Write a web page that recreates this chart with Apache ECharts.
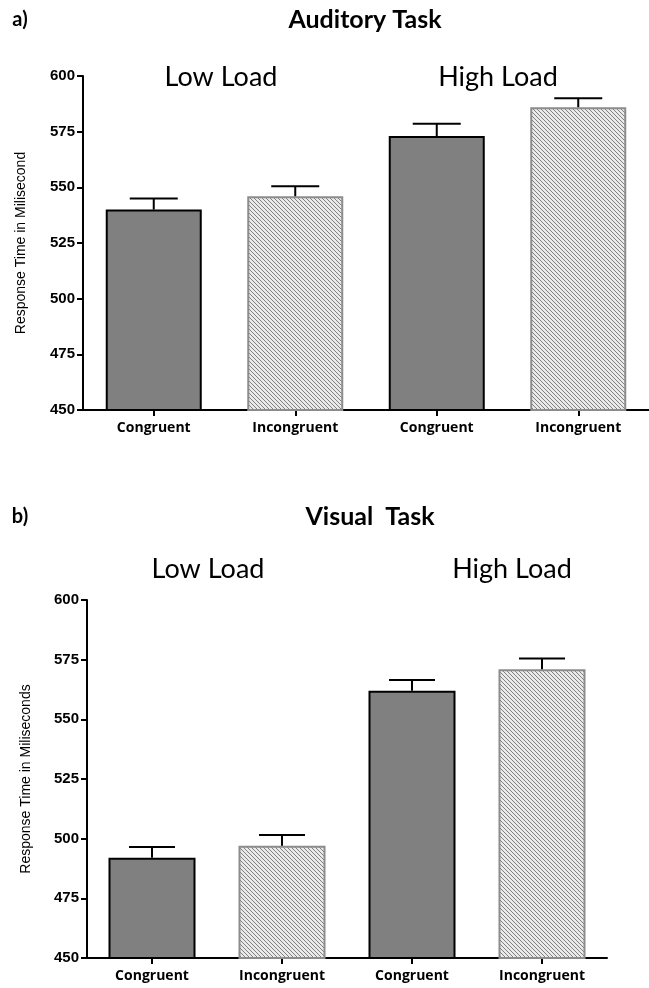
<!DOCTYPE html>
<html>
<head>
<meta charset="utf-8">
<script src="https://cdn.jsdelivr.net/npm/echarts@6/dist/echarts.min.js"></script>
<style>
  html, body { margin: 0; padding: 0; background: #fff; }
  #main { width: 649px; height: 988px; }
</style>
</head>
<body>
<div id="main"></div>
<script>
const categories = ['Congruent', 'Incongruent', 'Congruent', 'Incongruent'];
const auditoryMeans = [540, 546, 573, 586];
const auditoryErr = [5, 4.5, 5.5, 4];
const visualMeans = [492, 497, 562, 571];
const visualErr = [4.5, 4.5, 4.5, 4.5];
const yMin = 450, yMax = 600, yStep = 25;

// diagonal hatch for the incongruent bars
function makeHatch() {
  const c = document.createElement('canvas');
  c.width = 4; c.height = 4;
  const ctx = c.getContext('2d');
  ctx.fillStyle = '#eaeaea';
  ctx.fillRect(0, 0, 4, 4);
  ctx.strokeStyle = '#808080';
  ctx.lineWidth = 1;
  [[-1, -1, 5, 5], [-1, 3, 1, 5], [3, -1, 5, 1]].forEach(s => {
    ctx.beginPath(); ctx.moveTo(s[0], s[1]); ctx.lineTo(s[2], s[3]); ctx.stroke();
  });
  return c;
}
const hatch = makeHatch();

const solidStyle = { color: '#808080', borderColor: '#000', borderWidth: 2 };
const hatchStyle = { color: { image: hatch, repeat: 'repeat' }, borderColor: '#8c8c8c', borderWidth: 2 };

const barData = (means) => means.map((v, i) => ({ value: v, itemStyle: i % 2 ? hatchStyle : solidStyle }));
const errData = (means, errs) => means.map((v, i) => [i, v, v + errs[i]]);

const errRender = (capW) => function (params, api) {
  const base = api.coord([api.value(0), api.value(1)]);
  const top = api.coord([api.value(0), api.value(2)]);
  const st = { stroke: '#000', lineWidth: 2 };
  return {
    type: 'group',
    children: [
      { type: 'line', shape: { x1: base[0], y1: base[1], x2: top[0], y2: top[1] }, style: st },
      { type: 'line', shape: { x1: top[0] - capW / 2, y1: top[1], x2: top[0] + capW / 2, y2: top[1] }, style: st }
    ]
  };
};

const axisLine = { show: true, lineStyle: { color: '#000', width: 2 } };
const axisTick = { show: true, length: 6, lineStyle: { color: '#000', width: 2 } };

function xAxis(gridIndex) {
  return {
    type: 'category', gridIndex, data: categories,
    axisLine, axisTick: Object.assign({ alignWithLabel: true }, axisTick),
    axisLabel: { margin: 11, color: '#000', fontFamily: 'Open Sans', fontWeight: 'bold', fontSize: 14 }
  };
}
function yAxis(gridIndex, name, nameGap) {
  return {
    type: 'value', gridIndex, min: yMin, max: yMax, interval: yStep,
    name, nameLocation: 'middle', nameRotate: 90, nameGap,
    nameTextStyle: { color: '#000', fontFamily: 'Liberation Sans', fontSize: 14 },
    axisLine, axisTick, splitLine: { show: false },
    axisLabel: { margin: 8, color: '#000', fontFamily: 'Liberation Sans', fontWeight: 'bold', fontSize: 15 }
  };
}

const titleFont = 'Lato';
const txt = (x, y, text, size, weight) => ({
  type: 'text', x, y,
  style: { text, fill: '#000', font: `${weight} ${size}px ${titleFont}`, textAlign: 'center', textVerticalAlign: 'middle' }
});

const chart = echarts.init(document.getElementById('main'));
chart.setOption({
  animation: false,
  grid: [
    { left: 83, top: 76, width: 572, height: 334 },
    { left: 87, top: 600, width: 520, height: 358 }
  ],
  xAxis: [xAxis(0), xAxis(1)],
  yAxis: [yAxis(0, 'Response Time in Milisecond', 55), yAxis(1, 'Response Time in Miliseconds', 54)],
  graphic: [
    txt(20, 20, 'a)', 20, 'bold'),
    txt(365, 20, 'Auditory Task', 25, 'bold'),
    txt(221, 77, 'Low Load', 27, 'normal'),
    txt(498, 77, 'High Load', 27, 'normal'),
    txt(20, 517, 'b)', 20, 'bold'),
    txt(370, 517, 'Visual  Task', 25, 'bold'),
    txt(208, 569, 'Low Load', 27, 'normal'),
    txt(512, 569, 'High Load', 27, 'normal')
  ],
  series: [
    { type: 'bar', xAxisIndex: 0, yAxisIndex: 0, barWidth: 96, data: barData(auditoryMeans) },
    { type: 'custom', xAxisIndex: 0, yAxisIndex: 0, z: 5, renderItem: errRender(48), data: errData(auditoryMeans, auditoryErr) },
    { type: 'bar', xAxisIndex: 1, yAxisIndex: 1, barWidth: 87, data: barData(visualMeans) },
    { type: 'custom', xAxisIndex: 1, yAxisIndex: 1, z: 5, renderItem: errRender(46), data: errData(visualMeans, visualErr) }
  ]
});
</script>
</body>
</html>
